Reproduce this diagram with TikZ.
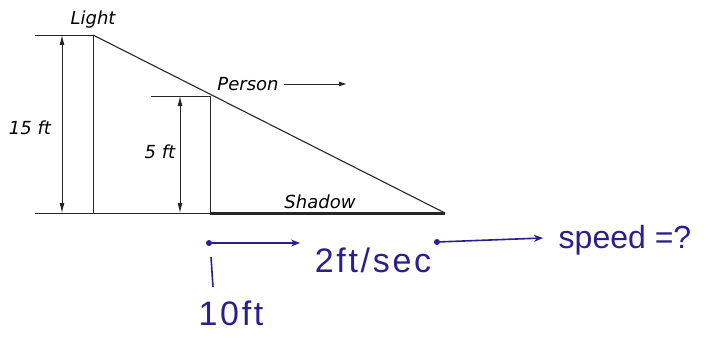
\documentclass[tikz,border=0pt]{standalone}
\usepackage{fontspec}
\setmainfont{DejaVu Sans}
\newfontfamily\handfont{Liberation Sans}
\usetikzlibrary{arrows.meta,positioning}
\definecolor{handink}{RGB}{42,32,138}

\begin{document}
\begin{tikzpicture}[
        x=1pt, y=-1pt,
        line/.style={draw=black!85, line width=0.9pt},
        dim/.style={draw=black!85, line width=0.9pt,
            {Latex[length=10pt,width=5pt]}-{Latex[length=10pt,width=5pt]}},
        lbl/.style={font=\fontsize{18}{21}\selectfont\itshape, inner sep=1pt},
        ink/.style={text=handink, font=\handfont\fontsize{32}{36}\selectfont,
            inner sep=1pt},
        inkwide/.style={ink, font=\handfont\fontsize{34}{38}\selectfont
            \addfontfeature{LetterSpace=8}},
        inkarrow/.style={draw=handink, line width=1.6pt,
            -{Stealth[length=9pt,width=7pt]}},
        dot/.style={circle, fill=handink, inner sep=0pt, minimum size=6pt},
    ]
    \useasboundingbox (0,0) rectangle (714,337);

    % ground, light post and person
    \coordinate (ll) at (35,35);
    \coordinate (lt) at (93,35);
    \coordinate (lb) at (93,213);
    \coordinate (gl) at (35,213);
    \coordinate (pl) at (151,96);
    \coordinate (pt) at (210,96);
    \coordinate (pb) at (210,213);
    \coordinate (tip) at (445,213);

    \draw[line] (ll) -- (lt) -- (lb);
    \draw[line] (gl) -- (pb);
    \draw[line] (pl) -- (pt) -- (pb);
    \draw[line, line width=1.1pt] (lt) -- (tip);
    \draw[draw=black!85, line width=3pt] (pb) -- (tip);

    % dimensions
    \coordinate (d15t) at (62,35);
    \coordinate (d15b) at (62,213);
    \coordinate (d5t) at (180,96);
    \coordinate (d5b) at (180,213);
    \draw[dim] (d15t) -- (d15b);
    \draw[dim] (d5t) -- (d5b);

    \node[lbl] (light) at (93,20) {Light};
    \node[lbl] (tall) at (30,128) {15 ft};
    \node[lbl] (short) at (160,152) {5 ft};
    \node[lbl] (person) at (248,84) {Person};
    \node[lbl] (shadow) at (320,202) {Shadow};

    \coordinate (walk) at (347,84);
    \draw[draw=black!85, line width=1pt, -{Latex[length=8pt,width=5pt]}]
        ([xshift=4pt]person.east) -- (walk);

    % handwritten notes
    \node[dot] (d1) at (209,243) {};
    \coordinate (rate) at (300,243);
    \draw[inkarrow] (d1) -- (rate);
    \coordinate (tickt) at (211,257);
    \coordinate (tickb) at (213,287);
    \draw[draw=handink, line width=1.6pt] (tickt) -- (tickb);
    \node[inkwide] (dist) at (231,313) {10ft};
    \node[inkwide] (feet) at (373,260) {2ft/sec};

    \node[dot] (d2) at (437,242) {};
    \coordinate (sp) at (543,238);
    \draw[inkarrow] (d2) -- (sp);
    \node[ink] (speed) at (625,240) {speed =?};
\end{tikzpicture}
\end{document}
